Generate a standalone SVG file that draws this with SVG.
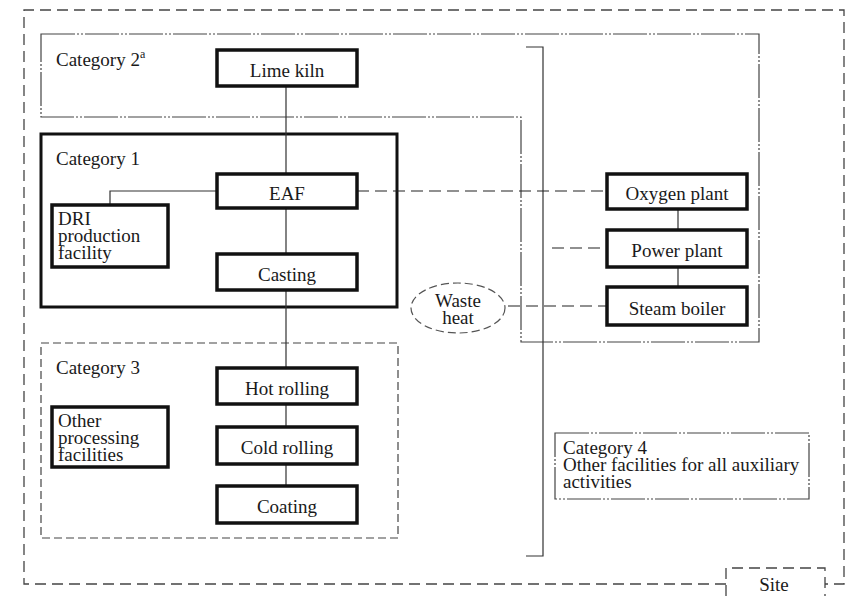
<svg xmlns="http://www.w3.org/2000/svg" width="851" height="596" viewBox="0 0 851 596">
  <style>
    text { font-family: "Liberation Serif", "DejaVu Serif", serif; font-size: 19px; fill: #1a1a1a; }
    .c { text-anchor: middle; }
    .box { fill: #fff; stroke: #111; stroke-width: 3.5; }
    .site { fill: none; stroke: #444; stroke-width: 1.3; stroke-dasharray: 11 6; }
    .dashed { fill: none; stroke: #444; stroke-width: 1.2; stroke-dasharray: 8 4; }
    .dashdot { fill: none; stroke: #444; stroke-width: 1.2; stroke-dasharray: 34 2 2 2 2 2; }
    .solid { fill: none; stroke: #333; stroke-width: 1.2; }
    .link { fill: none; stroke: #222; stroke-width: 1.2; stroke-dasharray: 12 6; }
  </style>

  <!-- site boundary with label tab -->
  <g id="site">
    <path class="site" d="M726,584 H24 V10 H844 V584 H825"/>
    <path class="site" d="M726,596 V568 H825 V596"/>
    <text class="c" x="774" y="591">Site</text>
  </g>

  <!-- category frames -->
  <g id="category2">
    <path class="dashdot" d="M41,34 H759 V342 H521 V117 H41 Z"/>
    <text x="56" y="66">Category 2<tspan font-size="12" dy="-8">a</tspan></text>
  </g>
  <g id="category1">
    <rect x="41" y="134" width="356" height="173" fill="none" stroke="#111" stroke-width="3"/>
    <text x="56" y="165">Category 1</text>
  </g>
  <g id="category3">
    <rect class="dashed" x="41" y="343" width="357" height="195"/>
    <text x="56" y="374">Category 3</text>
  </g>
  <g id="category4">
    <rect class="dashdot" x="555" y="433" width="254" height="66"/>
    <text x="563" y="454">Category 4</text>
    <text x="563" y="471">Other facilities for all auxiliary</text>
    <text x="563" y="488">activities</text>
  </g>

  <!-- bracket grouping the auxiliary facilities -->
  <path class="solid" d="M526,47 H543 V556 H526"/>

  <!-- connectors -->
  <g id="connectors">
    <path class="solid" d="M286,86 V174 M286,208 V254 M286,290 V368 M286,404 V427 M286,464 V486"/>
    <path class="solid" d="M217,191 H110 V205"/>
    <path class="solid" d="M678,209 V230 M678,267 V287"/>
    <path class="link" d="M357,191 H607"/>
    <path class="link" d="M552,248 H607"/>
    <path class="link" d="M508,306 H607"/>
  </g>

  <!-- process units -->
  <g id="lime-kiln">
    <rect class="box" x="217" y="50" width="140" height="36"/>
    <text class="c" x="287" y="77">Lime kiln</text>
  </g>
  <g id="eaf">
    <rect class="box" x="217" y="174" width="140" height="34" stroke-width="3"/>
    <text class="c" x="287" y="200">EAF</text>
  </g>
  <g id="dri">
    <rect class="box" x="52" y="205" width="116" height="62"/>
    <text x="58" y="225">DRI</text>
    <text x="58" y="242">production</text>
    <text x="58" y="259">facility</text>
  </g>
  <g id="casting">
    <rect class="box" x="217" y="254" width="140" height="36"/>
    <text class="c" x="287" y="281">Casting</text>
  </g>
  <g id="hot-rolling">
    <rect class="box" x="217" y="368" width="140" height="36"/>
    <text class="c" x="287" y="395">Hot rolling</text>
  </g>
  <g id="cold-rolling">
    <rect class="box" x="217" y="427" width="140" height="37"/>
    <text class="c" x="287" y="454">Cold rolling</text>
  </g>
  <g id="coating">
    <rect class="box" x="217" y="486" width="140" height="37"/>
    <text class="c" x="287" y="513">Coating</text>
  </g>
  <g id="other-processing">
    <rect class="box" x="52" y="407" width="116" height="60" stroke-width="3"/>
    <text x="58" y="427">Other</text>
    <text x="58" y="444">processing</text>
    <text x="58" y="461">facilities</text>
  </g>
  <g id="oxygen-plant">
    <rect class="box" x="607" y="174" width="140" height="35"/>
    <text class="c" x="677" y="200">Oxygen plant</text>
  </g>
  <g id="power-plant">
    <rect class="box" x="607" y="230" width="140" height="37"/>
    <text class="c" x="677" y="257">Power plant</text>
  </g>
  <g id="steam-boiler">
    <rect class="box" x="607" y="287" width="140" height="38"/>
    <text class="c" x="677" y="315">Steam boiler</text>
  </g>
  <g id="waste-heat">
    <ellipse cx="458" cy="308" rx="47" ry="25" fill="#fff" stroke="#555" stroke-width="1.2" stroke-dasharray="8 4"/>
    <text class="c" x="458" y="307">Waste</text>
    <text class="c" x="458" y="324">heat</text>
  </g>
</svg>
